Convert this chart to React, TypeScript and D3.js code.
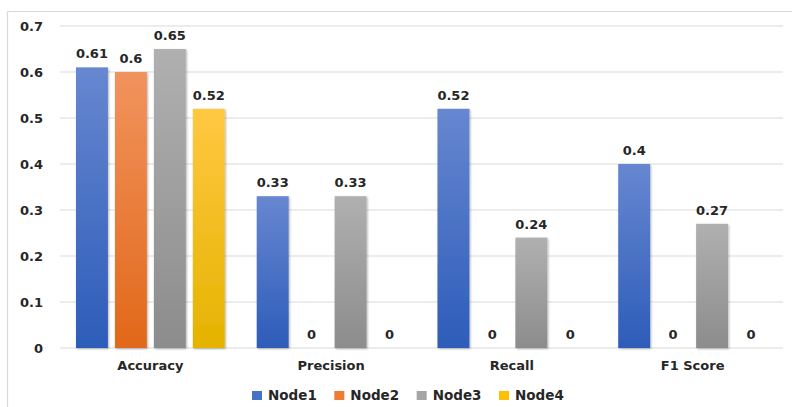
import React from "react";
import * as d3 from "d3";

const categories = ["Accuracy", "Precision", "Recall", "F1 Score"];
const seriesNames = ["Node1", "Node2", "Node3", "Node4"];
const node1 = [0.61, 0.33, 0.52, 0.4];
const node2 = [0.6, 0, 0, 0];
const node3 = [0.65, 0.33, 0.24, 0.27];
const node4 = [0.52, 0, 0, 0];
const yTicks = [0, 0.1, 0.2, 0.3, 0.4, 0.5, 0.6, 0.7];

const seriesValues = [node1, node2, node3, node4];
const colors = [
  { top: "#6787d0", bottom: "#2d5cb9", solid: "#4472c4" },
  { top: "#f1935d", bottom: "#e1681a", solid: "#ed7d31" },
  { top: "#b0b0b0", bottom: "#8c8c8c", solid: "#a5a5a5" },
  { top: "#ffc842", bottom: "#e5b300", solid: "#ffc000" },
];

const W = 792;
const H = 407;
const FONT = "'DejaVu Sans', Verdana, sans-serif";

export default function App() {
  const x0 = d3.scaleBand<string>().domain(categories).range([60, 783]).paddingInner(0).paddingOuter(0);
  const x1 = d3
    .scaleBand<string>()
    .domain(seriesNames)
    .range([0, x0.bandwidth()])
    .paddingInner(0.18)
    .paddingOuter(0.41);
  const y = d3.scaleLinear().domain([0, 0.7]).range([348, 26]);
  const fmt = (v: number) => String(v);

  // legend entries laid out on an even step
  const legend = d3.scalePoint<string>().domain(seriesNames).range([252, 499]);

  return (
    <svg
      width={W}
      height={H}
      style={{ position: "absolute", left: 0, top: 0, background: "#fff" }}
      fontFamily={FONT}
    >
      <defs>
        {colors.map((c, i) => (
          <linearGradient key={i} id={`grad${i}`} x1="0" y1="0" x2="0" y2="1">
            <stop offset="0%" stopColor={c.top} />
            <stop offset="100%" stopColor={c.bottom} />
          </linearGradient>
        ))}
        <filter id="barShadow" x="-20%" y="-5%" width="140%" height="110%">
          <feGaussianBlur in="SourceAlpha" stdDeviation="1.2" />
          <feOffset dx="0.5" dy="0.5" result="blur" />
          <feComponentTransfer>
            <feFuncA type="linear" slope="0.3" />
          </feComponentTransfer>
          <feMerge>
            <feMergeNode />
            <feMergeNode in="SourceGraphic" />
          </feMerge>
        </filter>
      </defs>

      {/* chart frame */}
      <line x1={7.5} y1={11.5} x2={W} y2={11.5} stroke="#d9d9d9" strokeWidth={1.2} />
      <line x1={7.5} y1={11.5} x2={7.5} y2={H} stroke="#d9d9d9" strokeWidth={1.2} />

      {/* gridlines and y-axis labels */}
      {yTicks.map((t) => (
        <g key={t}>
          <line x1={60} x2={783} y1={y(t)} y2={y(t)} stroke="#d9d9d9" strokeWidth={1} />
          <text
            x={43}
            y={y(t)}
            dy="0.35em"
            textAnchor="end"
            fontSize={13}
            fontWeight="bold"
            fill="#262626"
          >
            {fmt(t)}
          </text>
        </g>
      ))}

      {/* bars */}
      {categories.map((cat, ci) => (
        <g key={cat} transform={`translate(${x0(cat)},0)`}>
          {seriesNames.map((s, si) => {
            const v = seriesValues[si][ci];
            const bx = x1(s)!;
            const bw = x1.bandwidth();
            return (
              <g key={s}>
                {v > 0 && (
                  <rect
                    x={bx}
                    y={y(v)}
                    width={bw}
                    height={y(0) - y(v)}
                    fill={`url(#grad${si})`}
                    filter="url(#barShadow)"
                  />
                )}
                <text
                  x={bx + bw / 2}
                  y={y(v) - 9}
                  textAnchor="middle"
                  fontSize={13}
                  fontWeight="bold"
                  fill="#262626"
                >
                  {fmt(v)}
                </text>
              </g>
            );
          })}
          <text
            x={x0.bandwidth() / 2}
            y={370}
            textAnchor="middle"
            fontSize={13}
            fontWeight="bold"
            fill="#262626"
          >
            {cat}
          </text>
        </g>
      ))}

      {/* legend */}
      {seriesNames.map((s, i) => (
        <g key={s} transform={`translate(${legend(s)},0)`}>
          <rect x={0} y={391} width={10} height={9} fill={colors[i].solid} />
          <text x={16} y={400} fontSize={13.5} fontWeight="bold" fill="#262626">
            {s}
          </text>
        </g>
      ))}
    </svg>
  );
}
